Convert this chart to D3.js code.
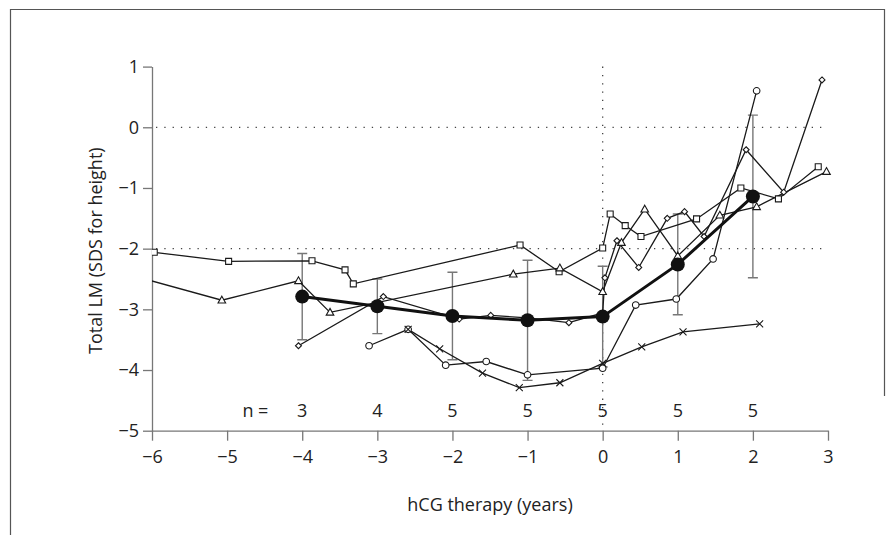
<!DOCTYPE html>
<html>
<head>
<meta charset="utf-8">
<script src="https://cdn.jsdelivr.net/npm/d3@7"></script>
<style>
  body { margin: 0; background: #fff; }
  text { font-family: "Open Sans", sans-serif; }
</style>
</head>
<body>
<div id="chart"></div>
<script>
// ---- data (x = years from hCG start, y = SDS) ----
let squarePts = [[-5.97, -2.06], [-4.98, -2.21], [-3.87, -2.20], [-3.43, -2.35], [-3.32, -2.58],
    [-1.10, -1.94], [-0.58, -2.38], [0.0, -1.99], [0.10, -1.43], [0.30, -1.62], [0.51, -1.80],
    [1.25, -1.51], [1.84, -1.00], [2.34, -1.18], [2.87, -0.65]];
let trianglePts = [[-6.3, -2.43], [-5.07, -2.85], [-4.05, -2.53], [-3.63, -3.05], [-1.19, -2.42],
    [-0.57, -2.32], [0.0, -2.71], [0.25, -1.90], [0.56, -1.35], [1.0, -2.12], [1.56, -1.45],
    [2.05, -1.31], [2.98, -0.73]];
let diamondPts = [[-4.05, -3.60], [-2.92, -2.79], [-1.91, -3.16], [-1.49, -3.10], [-1.0, -3.14],
    [-0.45, -3.22], [0.0, -3.06], [0.03, -2.48], [0.19, -1.87], [0.48, -2.31], [0.86, -1.50],
    [1.09, -1.39], [1.35, -1.80], [1.91, -0.37], [2.41, -1.07], [2.92, 0.78]];
let circlePts = [[-3.11, -3.60], [-2.59, -3.33], [-2.09, -3.92], [-1.55, -3.86], [-1.0, -4.08],
    [0.0, -3.97], [0.44, -2.93], [0.98, -2.83], [1.47, -2.17], [2.05, 0.60]];
let crossPts = [[-2.59, -3.33], [-2.17, -3.65], [-1.60, -4.05], [-1.11, -4.29], [-0.57, -4.21],
    [0.0, -3.89], [0.52, -3.62], [1.07, -3.37], [2.09, -3.24]];

let meanX = [-4, -3, -2, -1, 0, 1, 2];
let meanY = [-2.79, -2.95, -3.11, -3.18, -3.12, -2.26, -1.14];
let meanSD = [0.71, 0.45, 0.72, 0.99, 0.83, 0.83, 1.34];
let nCount = [3, 4, 5, 5, 5, 5, 5];

let xTicks = [-6, -5, -4, -3, -2, -1, 0, 1, 2, 3];
let yTicks = [-5, -4, -3, -2, -1, 0, 1];
let refLinesY = [0, -2];
let refLinesX = [0];

let width = 896, height = 535;
let fontSize = 18;

let svg = d3.select("#chart")
    .append("svg")
    .attr("width", width)
    .attr("height", height);

// outer frame (left, top, right part)
svg.append("path")
    .attr("d", "M10.5,535 L10.5,9.5 L884.5,9.5 L884.5,396")
    .attr("fill", "none")
    .attr("stroke", "#555")
    .attr("stroke-width", 1.2);

let x = d3.scaleLinear().domain([-6, 3]).range([152, 828]);
let y = d3.scaleLinear().domain([-5, 1]).range([430.7, 66.6]);

svg.append("clipPath").attr("id", "plotclip")
    .append("rect")
    .attr("x", x(-6)).attr("y", y(1) - 20)
    .attr("width", x(3) - x(-6) + 20).attr("height", y(-5) - y(1) + 20);

// dotted reference lines
svg.selectAll(".refy")
    .data(refLinesY)
    .join("line")
    .attr("x1", x(-6) + 4).attr("x2", x(3))
    .attr("y1", d => y(d)).attr("y2", d => y(d))
    .attr("stroke", "#444")
    .attr("stroke-width", 1.3)
    .attr("stroke-dasharray", "1.3,7");

svg.selectAll(".refx")
    .data(refLinesX)
    .join("line")
    .attr("x1", d => x(d)).attr("x2", d => x(d))
    .attr("y1", y(1)).attr("y2", y(-5))
    .attr("stroke", "#444")
    .attr("stroke-width", 1.3)
    .attr("stroke-dasharray", "1.3,7");

// axes
let fmt = d3.format("d");
let yAxis = svg.append("g")
    .attr("transform", `translate(${x(-6)},0)`)
    .call(d3.axisLeft(y).tickValues(yTicks).tickFormat(fmt).tickSize(9).tickSizeOuter(0).tickPadding(4));
let xAxis = svg.append("g")
    .attr("transform", `translate(0,${y(-5)})`)
    .call(d3.axisBottom(x).tickValues(xTicks).tickFormat(fmt).tickSize(10).tickSizeOuter(0).tickPadding(10));

[xAxis, yAxis].forEach(function (a) {
    a.selectAll("path, line").attr("stroke", "#777").attr("stroke-width", 1.3);
    a.selectAll("text")
        .attr("font-family", "Open Sans, sans-serif")
        .attr("font-size", fontSize)
        .attr("fill", "#222");
});

// axis titles
svg.append("text")
    .attr("x", (x(-6) + x(3)) / 2)
    .attr("y", 511)
    .attr("text-anchor", "middle")
    .attr("font-size", fontSize)
    .attr("fill", "#222")
    .text("hCG therapy (years)");

svg.append("text")
    .attr("transform", `translate(102,${(y(1) + y(-5)) / 2 + 2}) rotate(-90)`)
    .attr("text-anchor", "middle")
    .attr("font-size", fontSize)
    .attr("fill", "#222")
    .text("Total LM (SDS for height)");

// n = labels
svg.append("text")
    .attr("x", x(-4.45))
    .attr("y", y(-4.78))
    .attr("text-anchor", "end")
    .attr("font-size", fontSize)
    .attr("fill", "#222")
    .text("n =");

svg.selectAll(".nlab")
    .data(meanX)
    .join("text")
    .attr("x", d => x(d))
    .attr("y", y(-4.78))
    .attr("text-anchor", "middle")
    .attr("font-size", fontSize)
    .attr("fill", "#222")
    .text((d, i) => nCount[i]);

let plot = svg.append("g").attr("clip-path", "url(#plotclip)");

// error bars (mean +/- SD)
let err = plot.append("g")
    .attr("stroke", "#777")
    .attr("stroke-width", 1.4);
meanX.forEach(function (mx, i) {
    let top = y(meanY[i] + meanSD[i]), bot = y(meanY[i] - meanSD[i]);
    err.append("line").attr("x1", x(mx)).attr("x2", x(mx)).attr("y1", top).attr("y2", bot);
    err.append("line").attr("x1", x(mx) - 5).attr("x2", x(mx) + 5).attr("y1", top).attr("y2", top);
    err.append("line").attr("x1", x(mx) - 5).attr("x2", x(mx) + 5).attr("y1", bot).attr("y2", bot);
});

let line = d3.line().x(d => x(d[0])).y(d => y(d[1]));

// marker shapes
function marker(type) {
    if (type === "square") return "M-3,-3H3V3H-3Z";
    if (type === "triangle") return "M0,-4L3.8,2.8H-3.8Z";
    if (type === "diamond") return "M0,-3L3,0L0,3L-3,0Z";
    if (type === "circle") return "M3.3,0A3.3,3.3 0 1,1 -3.3,0A3.3,3.3 0 1,1 3.3,0Z";
    return "M-3.5,-3.5L3.5,3.5M-3.5,3.5L3.5,-3.5";
}

let series = [
    { pts: squarePts, type: "square" },
    { pts: trianglePts, type: "triangle" },
    { pts: diamondPts, type: "diamond" },
    { pts: circlePts, type: "circle" },
    { pts: crossPts, type: "cross" }
];

series.forEach(function (s) {
    plot.append("path")
        .datum(s.pts)
        .attr("d", line)
        .attr("fill", "none")
        .attr("stroke", "#1a1a1a")
        .attr("stroke-width", 1.3);
});

series.forEach(function (s) {
    plot.append("g")
        .selectAll("path")
        .data(s.pts)
        .join("path")
        .attr("transform", d => `translate(${x(d[0])},${y(d[1])})`)
        .attr("d", marker(s.type))
        .attr("fill", s.type === "cross" ? "none" : "#fff")
        .attr("stroke", "#1a1a1a")
        .attr("stroke-width", 1.1);
});

// mean line and dots
let meanPts = meanX.map((d, i) => [d, meanY[i]]);
plot.append("path")
    .datum(meanPts)
    .attr("d", line)
    .attr("fill", "none")
    .attr("stroke", "#111")
    .attr("stroke-width", 3);

plot.selectAll(".mean")
    .data(meanPts)
    .join("circle")
    .attr("cx", d => x(d[0]))
    .attr("cy", d => y(d[1]))
    .attr("r", 7)
    .attr("fill", "#111");
</script>
</body>
</html>
